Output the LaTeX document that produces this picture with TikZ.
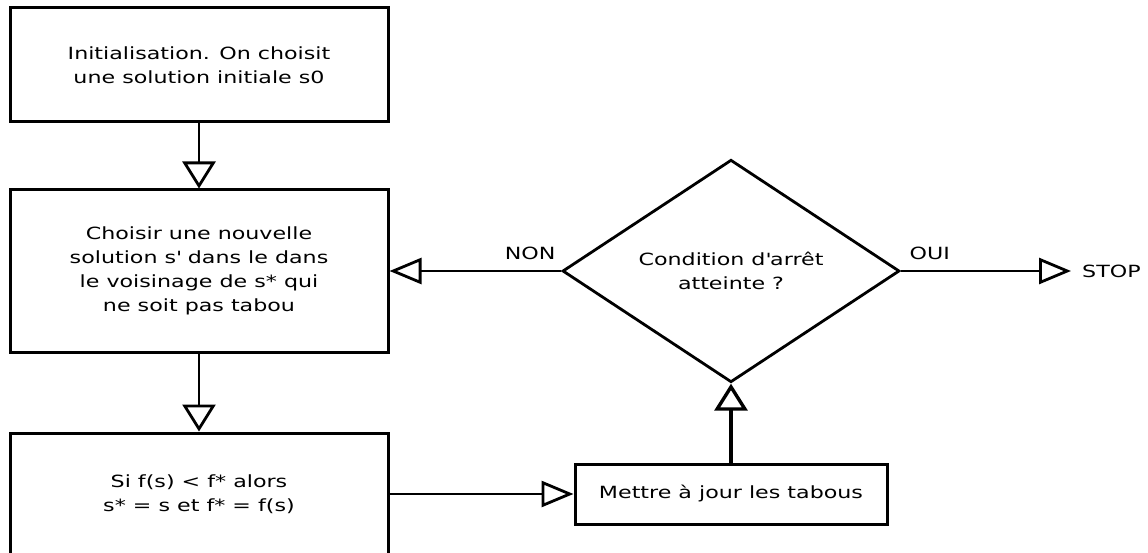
\documentclass[tikz,border=0pt]{standalone}
\usepackage{fontspec}
\setmainfont{DejaVu Sans}[FakeStretch=1.32]
\usetikzlibrary{arrows.meta,shapes.geometric}

\begin{document}
\begin{tikzpicture}[x=1pt,y=-1pt,
  every node/.style={font=\fontsize{16.8}{24}\selectfont},
  box/.style={draw, line width=3pt, rectangle, inner sep=0pt, align=center},
  decision/.style={draw, diamond, line width=2.8pt, inner sep=0pt, align=center},
  link/.style={line width=2.8pt},
  harrow/.style={-{Triangle[open,length=32pt,width=26pt]}},
  varrow/.style={-{Triangle[open,length=27pt,width=33pt]}},
  label/.style={above=7pt}
]
  % page area
  \fill[white] (0,0) rectangle (1148,553);
  \path[use as bounding box] (0,0) rectangle (1148,553);

  % process boxes
  \node[box, minimum width=378pt, minimum height=114pt] (init) at (199,65)
    {Initialisation. On choisit\\une solution initiale s0};
  \node[box, minimum width=378pt, minimum height=162pt] (choose) at (199,271)
    {Choisir une nouvelle\\solution s\textquotesingle{} dans le dans\\le voisinage de s* qui\\ne soit pas tabou};
  \node[box, minimum width=378pt, minimum height=122pt] (better) at (199,494)
    {Si f(s) < f* alors\\s* = s et f* = f(s)};
  \node[box, minimum width=312pt, minimum height=60pt] (tabu) at (731,494)
    {Mettre à jour les tabous};

  % stopping test
  \node[decision, minimum width=337pt, minimum height=206pt] (cond) at (731,271)
    {Condition d\textquotesingle{}arrêt\\atteinte ?};
  \node[anchor=west, inner xsep=11pt, inner ysep=0pt] (stop) at (1071,271) {STOP};

  % connectors
  \draw[link, varrow] (init) -- (choose);
  \draw[link, varrow] (choose) -- (better);
  \draw[link, harrow] (better) -- (tabu);
  \draw[link, line width=3.4pt, varrow] (tabu) -- (cond);
  \draw[link, harrow] (cond.west) -- node[label, pos=0.18] {NON} (choose.east);
  \draw[link, harrow] (cond.east) -- node[label, pos=0.17] {OUI} (stop.west);
\end{tikzpicture}
\end{document}
